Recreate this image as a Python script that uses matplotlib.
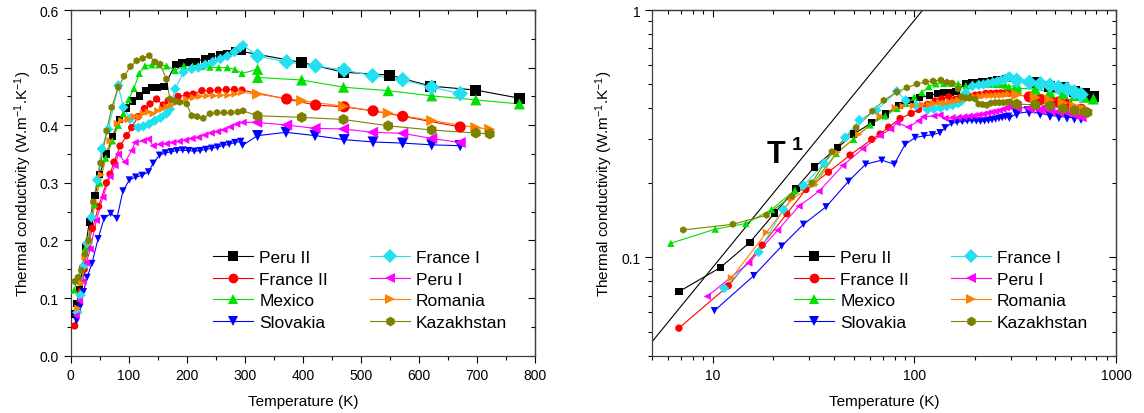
import matplotlib
matplotlib.use('Agg')
import matplotlib.pyplot as plt
from matplotlib.lines import Line2D
from matplotlib.ticker import MultipleLocator, FuncFormatter, NullFormatter

plt.rcParams['font.family'] = ['Liberation Sans', 'DejaVu Sans']
plt.rcParams['mathtext.default'] = 'regular'

# ---- data (temperature in K, thermal conductivity in W/m/K) ----
peru2_T = [6.8, 10.9, 15.3, 20.3, 25.9, 32, 41.7, 50, 61.5, 72, 84, 95, 106, 119, 130, 140, 150, 161,
           180, 192, 205, 217, 230, 243, 257, 269, 283, 295, 398, 470, 550, 620, 698, 773]
peru2_k = [0.0726, 0.0908, 0.115, 0.151, 0.19, 0.232, 0.278, 0.315, 0.35, 0.38, 0.41, 0.43, 0.442, 0.451,
           0.46, 0.465, 0.465, 0.467, 0.505, 0.508, 0.510, 0.511, 0.515, 0.519, 0.522, 0.525, 0.529, 0.528,
           0.509, 0.492, 0.487, 0.468, 0.461, 0.447]

france2_T = [6.8, 11.95, 17.6, 23.3, 29, 37.5, 48, 61.5, 67.7, 74.6, 85, 96.5, 105, 116, 127, 136.6, 148,
             159.5, 168, 185, 200, 211, 226, 240, 254, 268, 282, 295, 372, 422, 471, 521, 572, 671]
france2_k = [0.0517, 0.0767, 0.112, 0.150, 0.188, 0.221, 0.259, 0.30, 0.315, 0.336, 0.364, 0.382, 0.396,
             0.415, 0.429, 0.437, 0.4455, 0.435, 0.4426, 0.45, 0.4525, 0.454, 0.46, 0.46, 0.461, 0.462,
             0.462, 0.461, 0.4455, 0.435, 0.432, 0.425, 0.4155, 0.397]

mexico_T = [6.2, 10.3, 14.6, 19.6, 25.6, 31.6, 41, 50, 60.4, 71.7, 82, 91, 100, 109, 118, 128, 140, 152,
            165, 180, 195, 210, 225, 240, 255, 270, 283, 295, 322, 322, 398, 470, 547, 622, 698, 773]
mexico_k = [0.114, 0.130, 0.137, 0.156, 0.187, 0.2, 0.263, 0.30, 0.343, 0.373, 0.40, 0.42, 0.445, 0.464,
            0.49, 0.503, 0.505, 0.505, 0.503, 0.495, 0.503, 0.503, 0.502, 0.501, 0.5, 0.5, 0.497, 0.49,
            0.497, 0.483, 0.4785, 0.466, 0.46, 0.451, 0.444, 0.437]

slovakia_T = [10.2, 16.0, 22.0, 28.2, 36.5, 47.2, 57.4, 69, 79.5, 90, 101, 112, 123, 134, 142, 153, 163,
              173, 183, 193, 203, 213, 223, 233, 243, 253, 263, 273, 283, 293, 296, 322, 371, 421, 471,
              521, 572, 622, 671]
slovakia_k = [0.0608, 0.0843, 0.111, 0.136, 0.16, 0.203, 0.238, 0.247, 0.238, 0.286, 0.305, 0.31, 0.313,
              0.319, 0.334, 0.348, 0.352, 0.354, 0.356, 0.357, 0.356, 0.355, 0.356, 0.358, 0.36, 0.362,
              0.365, 0.367, 0.37, 0.372, 0.365, 0.382, 0.3877, 0.382, 0.375, 0.371, 0.369, 0.366, 0.3645]

france1_T = [11.4, 16.9, 22.4, 28.2, 35.7, 45.4, 53.4, 64.8, 82, 90.7, 102, 116.5, 125, 135, 145, 155,
             165, 171, 180, 194, 208.5, 220, 232, 245, 258, 270, 282, 292, 297, 322, 372, 422, 471, 520,
             572, 622, 671]
france1_k = [0.075, 0.105, 0.156, 0.195, 0.24, 0.305, 0.359, 0.393, 0.469, 0.431, 0.411, 0.396, 0.398,
             0.402, 0.408, 0.413, 0.42, 0.428, 0.463, 0.492, 0.4976, 0.50, 0.505, 0.51, 0.515, 0.52,
             0.527, 0.535, 0.539, 0.52, 0.510, 0.503, 0.496, 0.486, 0.479, 0.466, 0.455]

peru1_T = [9.4, 15.1, 21.0, 26.8, 33.7, 44.2, 55.5, 67.7, 76.3, 82, 93.5, 105, 111, 125, 134, 142, 154,
           165, 176, 187, 198, 209, 220, 231, 242, 253, 264, 275, 286, 297, 320.5, 372, 421, 470, 520,
           572, 622, 671]
peru1_k = [0.0695, 0.0949, 0.1287, 0.161, 0.185, 0.235, 0.275, 0.311, 0.33, 0.35, 0.336, 0.356, 0.37,
           0.373, 0.376, 0.3645, 0.367, 0.368, 0.37, 0.372, 0.374, 0.377, 0.379, 0.383, 0.3865, 0.389,
           0.392, 0.397, 0.402, 0.405, 0.405, 0.4004, 0.3946, 0.3935, 0.3877, 0.386, 0.377, 0.370]

romania_T = [12.4, 18.5, 24.7, 32.2, 41.3, 53, 67.8, 80.4, 88, 99, 110, 119, 125, 134, 142, 150, 158, 166,
             174, 185, 200, 212, 223, 235, 247, 259, 271, 283, 295, 322, 398, 470, 547, 622, 698, 722]
romania_k = [0.0825, 0.126, 0.172, 0.197, 0.265, 0.314, 0.373, 0.403, 0.408, 0.41, 0.415, 0.414, 0.42,
             0.423, 0.42, 0.425, 0.428, 0.432, 0.435, 0.44, 0.4455, 0.448, 0.45, 0.451, 0.451, 0.452,
             0.452, 0.454, 0.457, 0.454, 0.4426, 0.433, 0.421, 0.408, 0.396, 0.393]

kazakh_T = [7.15, 12.6, 18.5, 24.7, 31, 39, 51.5, 62, 70.6, 82, 91.8, 103, 113.7, 124, 135.4, 145, 154,
            165, 171, 180, 188, 200, 208.5, 218, 228.5, 240, 252, 264, 276, 288, 297, 322, 398, 470, 547,
            622, 698, 722]
kazakh_k = [0.129, 0.136, 0.148, 0.1767, 0.2, 0.267, 0.3346, 0.39, 0.431, 0.466, 0.485, 0.502, 0.512,
            0.516, 0.5207, 0.51, 0.506, 0.48, 0.4455, 0.442, 0.44, 0.437, 0.4165, 0.415, 0.412, 0.42,
            0.422, 0.422, 0.422, 0.423, 0.425, 0.4165, 0.4137, 0.41, 0.399, 0.3917, 0.3865, 0.385]

# T^1 guide line end points
t1_T = [5, 120]
t1_k = [0.0455, 1.09]

series = [
    ('Peru II', peru2_T, peru2_k, 'black', 's'),
    ('France II', france2_T, france2_k, '#ff0000', 'o'),
    ('Mexico', mexico_T, mexico_k, '#00e000', '^'),
    ('Slovakia', slovakia_T, slovakia_k, '#0000ff', 'v'),
    ('France I', france1_T, france1_k, '#22e0f0', 'D'),
    ('Peru I', peru1_T, peru1_k, '#ff00ff', '<'),
    ('Romania', romania_T, romania_k, '#ff8000', '>'),
    ('Kazakhstan', kazakh_T, kazakh_k, '#808000', 'h'),
]

fig = plt.figure(figsize=(11.44, 4.14), dpi=100)
ax1 = fig.add_axes([0.0618, 0.1384, 0.4059, 0.835])
ax2 = fig.add_axes([0.5699, 0.1384, 0.4056, 0.835])

handles = []
for name, T, k, c, m in series:
    sizes = [64 if t >= 310 else 28 for t in T]
    for ax in (ax1, ax2):
        ax.plot(T, k, '-', color=c, lw=0.8, zorder=2)
        ax.scatter(T, k, s=sizes, marker=m, color=c, edgecolors='none', zorder=3)
    handles.append(Line2D([], [], color=c, lw=0.8, marker=m, markersize=7, markeredgewidth=0))

ylab = 'Thermal conductivity (W.m$^{-1}$.K$^{-1}$)'
xlab = 'Temperature (K)'

# left: linear
ax1.set_xlim(0, 800)
ax1.set_ylim(0, 0.6)
ax1.xaxis.set_major_locator(MultipleLocator(100))
ax1.xaxis.set_minor_locator(MultipleLocator(50))
ax1.yaxis.set_major_locator(MultipleLocator(0.1))
ax1.yaxis.set_minor_locator(MultipleLocator(0.05))
ax1.yaxis.set_major_formatter(FuncFormatter(lambda v, p: f'{v:.1f}'))

# right: log-log
ax2.set_xscale('log')
ax2.set_yscale('log')
ax2.set_xlim(5, 1000)
ax2.set_ylim(0.04, 1)
ax2.plot(t1_T, t1_k, '-', color='black', lw=0.8, zorder=1)
ax2.text(18.6, 0.244, 'T', fontsize=22, fontweight='bold', ha='left', va='baseline')
ax2.text(24.8, 0.275, '1', fontsize=14, fontweight='bold', ha='left', va='baseline')
fmt = FuncFormatter(lambda v, p: f'{v:g}')
ax2.xaxis.set_major_formatter(fmt)
ax2.yaxis.set_major_formatter(fmt)
ax2.xaxis.set_minor_formatter(NullFormatter())
ax2.yaxis.set_minor_formatter(NullFormatter())

for ax in (ax1, ax2):
    ax.tick_params(which='both', direction='out', labelsize=10, width=0.8)
    ax.tick_params(which='major', length=5)
    ax.tick_params(which='minor', length=3)
    for sp in ax.spines.values():
        sp.set_linewidth(0.9)
        sp.set_color('#404040')
    ax.set_xlabel(xlab, fontsize=11, labelpad=9)
    ax.set_ylabel(ylab, fontsize=11, labelpad=4)
    ax.legend(handles, [s[0] for s in series], ncol=2, loc='upper left',
              bbox_to_anchor=(0.307, 0.306), frameon=False, fontsize=12.5,
              handlelength=2.3, handletextpad=0.35, columnspacing=2.4,
              labelspacing=0.37, borderpad=0, borderaxespad=0)

    top = ax.secondary_xaxis('top')
    right = ax.secondary_yaxis('right')
    for sec in (top, right):
        sec.tick_params(which='both', direction='in', width=0.8)
        sec.tick_params(which='major', length=5)
        sec.tick_params(which='minor', length=3)
        for sp in sec.spines.values():
            sp.set_linewidth(0.9)
            sp.set_color('#404040')
    top.tick_params(labeltop=False)
    right.tick_params(labelright=False)
    if ax is ax1:
        top.xaxis.set_major_locator(MultipleLocator(100))
        top.xaxis.set_minor_locator(MultipleLocator(50))
        right.yaxis.set_major_locator(MultipleLocator(0.1))
        right.yaxis.set_minor_locator(MultipleLocator(0.05))
    top.xaxis.set_major_formatter(NullFormatter())
    top.xaxis.set_minor_formatter(NullFormatter())
    right.yaxis.set_major_formatter(NullFormatter())
    right.yaxis.set_minor_formatter(NullFormatter())

fig.savefig('out.png', dpi=100)
